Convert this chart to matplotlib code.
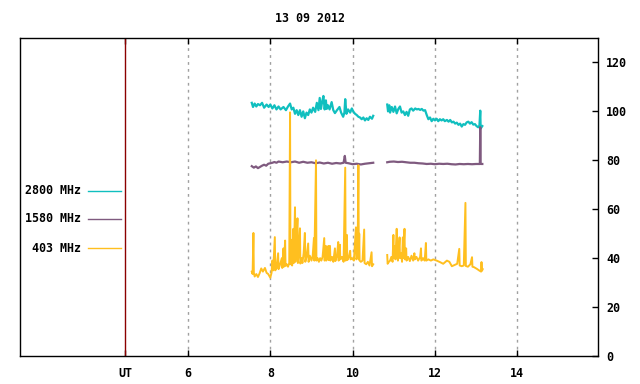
import matplotlib
matplotlib.use('Agg')
import matplotlib.pyplot as plt
from matplotlib.lines import Line2D
import numpy as np

title = "13 09 2012"
xticks = [6, 8, 10, 12, 14]
yticks = [0, 20, 40, 60, 80, 100, 120]
ut_pos = 4.47
labels = ["2800 MHz", "1580 MHz", "403 MHz"]
colors = ["#10bfbf", "#7f5a7f", "#ffbf1f"]

# 2800 MHz (nan = gap in the record)
cyan_t = [7.55, 7.58, 7.62, 7.66, 7.70, 7.75, 7.80, 7.85, 7.91, 7.96, 8.00, 8.05,
          8.10, 8.15, 8.20, 8.25, 8.32, 8.38, 8.43, 8.48, 8.52, 8.56, 8.60, 8.64,
          8.68, 8.72, 8.76, 8.80, 8.84, 8.88, 8.92, 8.96, 9.00, 9.04, 9.09, 9.13,
          9.17, 9.20, 9.23, 9.26, 9.29, 9.32, 9.35, 9.37, 9.40, 9.44, 9.49, 9.53,
          9.57, 9.62, 9.68, 9.72, 9.77, 9.80, 9.82, 9.85, 9.89, 9.94, 9.98, 10.02,
          10.06, 10.10, 10.14, 10.18, 10.22, 10.26, 10.30, 10.34, 10.38, 10.42, 10.47, 10.50,
          10.67,
          10.84, 10.86, 10.89, 10.91, 10.95, 10.99, 11.03, 11.07, 11.11, 11.15, 11.19, 11.23,
          11.27, 11.31, 11.35, 11.39, 11.43, 11.47, 11.52, 11.56, 11.60, 11.64, 11.68, 11.72,
          11.76, 11.80, 11.84, 11.88, 11.92, 11.96, 12.00, 12.04, 12.08, 12.12, 12.16, 12.20,
          12.24, 12.29, 12.33, 12.37, 12.41, 12.45, 12.49, 12.53, 12.57, 12.61, 12.65, 12.69,
          12.73, 12.77, 12.81, 12.85, 12.89, 12.93, 12.97, 13.01, 13.05, 13.08, 13.10, 13.11,
          13.15]
cyan_v = [103.5, 101.8, 103.2, 102.0, 103.0, 102.5, 103.5, 101.5, 102.8, 101.8, 102.8, 101.2,
          102.5, 100.8, 102.0, 100.8, 101.8, 100.5, 102.0, 103.2, 100.8, 101.5, 99.0, 100.5,
          98.5, 100.5, 97.8, 100.0, 97.2, 99.5, 98.5, 100.8, 99.5, 101.5, 99.8, 103.5,
          100.5, 105.5, 101.0, 104.0, 106.3, 100.8, 104.5, 101.0, 102.5, 100.8, 103.8, 100.5,
          99.3, 100.5, 101.8, 99.5, 97.8, 99.5, 105.0, 99.0, 100.8, 99.5, 101.2, 99.8,
          99.0, 98.5, 97.8, 97.5, 96.8, 97.5, 96.3, 97.2, 96.5, 97.8, 97.0, 98.2,
          np.nan,
          102.8, 100.0, 102.5, 99.5, 101.8, 99.8, 102.0, 99.2, 101.0, 102.0, 99.5, 100.0,
          98.5, 99.8, 98.2, 100.8, 101.2, 100.3, 101.2, 100.8, 101.0, 100.6, 101.0, 100.3,
          100.5, 98.5, 96.8, 97.5, 96.0, 97.0, 96.3, 97.0, 96.0, 96.8, 96.3, 96.8,
          96.0, 96.5, 95.8, 96.5, 95.5, 95.8, 95.0, 95.4, 94.5, 95.0, 93.8, 94.8,
          94.5, 95.5, 95.8, 95.0, 95.6, 94.6, 94.8, 94.0, 93.5, 94.2, 100.3, 93.0,
          94.0]

# 1580 MHz
purple_t = [7.55, 7.60, 7.65, 7.70, 7.75, 7.80, 7.85, 7.90, 7.95, 8.00, 8.05, 8.10,
            8.15, 8.20, 8.30, 8.40, 8.50, 8.60, 8.70, 8.80, 8.90, 9.00, 9.10, 9.20,
            9.30, 9.40, 9.50, 9.60, 9.70, 9.78, 9.81, 9.83, 9.90, 10.00, 10.10, 10.20,
            10.30, 10.40, 10.50, 10.67,
            10.84, 10.90, 11.00, 11.10, 11.20, 11.30, 11.40, 11.50, 11.60, 11.70, 11.80, 11.90,
            12.00, 12.10, 12.20, 12.30, 12.40, 12.50, 12.60, 12.70, 12.80, 12.90, 13.00, 13.09,
            13.10, 13.11, 13.15]
purple_v = [77.6, 77.0, 77.5, 76.8, 77.3, 77.8, 78.2, 77.8, 78.6, 78.8, 79.0, 79.3,
            79.0, 79.5, 79.2, 79.5, 79.2, 79.5, 79.0, 79.4, 79.0, 79.2, 78.8, 79.1,
            78.7, 79.0, 78.6, 78.9, 78.7, 79.0, 81.8, 79.0, 78.8, 78.4, 78.6, 78.3,
            78.6, 78.8, 79.0, np.nan,
            79.2, 79.4, 79.5, 79.3, 79.4, 79.2, 79.0, 79.0, 78.8, 78.7, 78.5, 78.6,
            78.4, 78.6, 78.5, 78.6, 78.4, 78.3, 78.5, 78.4, 78.5, 78.4, 78.5, 78.5,
            93.5, 78.5, 78.5]

# 403 MHz
yellow_t = [7.55, 7.57, 7.59, 7.60, 7.62, 7.66, 7.70, 7.74, 7.78, 7.82, 7.87, 7.91,
            7.95, 8.00, 8.03, 8.05, 8.07, 8.11, 8.12, 8.15, 8.19, 8.20, 8.23, 8.28,
            8.29, 8.32, 8.33, 8.36, 8.37, 8.40, 8.43, 8.46, 8.48, 8.49, 8.52, 8.53,
            8.56, 8.57, 8.60, 8.61, 8.63, 8.66, 8.67, 8.69, 8.72, 8.73, 8.76, 8.78,
            8.81, 8.84, 8.85, 8.88, 8.92, 8.93, 8.96, 9.00, 9.03, 9.06, 9.07, 9.11,
            9.12, 9.15, 9.18, 9.21, 9.24, 9.27, 9.31, 9.32, 9.35, 9.36, 9.38, 9.41,
            9.42, 9.45, 9.46, 9.50, 9.53, 9.57, 9.58, 9.62, 9.65, 9.66, 9.69, 9.70,
            9.74, 9.78, 9.82, 9.83, 9.86, 9.87, 9.91, 9.94, 9.95, 9.99, 10.03, 10.08,
            10.09, 10.12, 10.14, 10.15, 10.16, 10.17, 10.20, 10.24, 10.28, 10.29, 10.33, 10.37,
            10.41, 10.46, 10.47, 10.50, 10.67,
            10.84, 10.85, 10.88, 10.91, 10.94, 10.97, 10.99, 11.00, 11.03, 11.04, 11.07, 11.09,
            11.10, 11.12, 11.14, 11.15, 11.18, 11.20, 11.22, 11.23, 11.26, 11.27, 11.30, 11.31,
            11.35, 11.39, 11.43, 11.47, 11.50, 11.51, 11.55, 11.59, 11.64, 11.66, 11.67, 11.71,
            11.75, 11.78, 11.79, 11.84, 11.90, 11.96, 12.04, 12.12, 12.20, 12.29, 12.35, 12.41,
            12.49, 12.54, 12.59, 12.60, 12.65, 12.70, 12.74, 12.75, 12.80, 12.86, 12.90, 12.91,
            12.95, 13.02, 13.08, 13.12, 13.13, 13.14, 13.16]
yellow_v = [34.5, 33.5, 50.3, 34.0, 32.5, 33.5, 32.3, 33.8, 35.8, 34.5, 36.0, 34.0,
            33.5, 32.0, 34.0, 39.0, 35.0, 48.6, 35.0, 36.0, 42.0, 35.5, 37.0, 40.0,
            36.0, 44.0, 36.5, 47.2, 36.8, 37.5, 36.5, 38.0, 99.6, 37.5, 47.5, 37.0,
            52.0, 38.0, 60.8, 38.5, 45.0, 56.3, 38.0, 42.0, 52.2, 37.8, 40.0, 38.0,
            42.0, 50.3, 38.5, 40.5, 46.0, 38.5, 41.0, 39.0, 41.0, 48.2, 39.0, 80.0,
            39.0, 40.0, 38.5, 40.0, 39.0, 40.5, 48.2, 39.0, 45.0, 39.0, 40.0, 45.0,
            39.2, 45.0, 39.0, 40.5, 38.5, 44.0, 38.8, 41.0, 46.6, 39.0, 45.5, 39.5,
            40.5, 38.5, 77.0, 39.0, 49.5, 39.2, 40.5, 43.0, 39.5, 40.0, 39.0, 52.6,
            39.5, 41.0, 78.0, 39.5, 50.0, 39.0, 38.5, 39.0, 51.7, 38.0, 37.5, 38.5,
            37.0, 42.4, 36.7, 37.5, np.nan,
            41.3, 37.7, 38.5, 39.0, 40.5, 38.5, 49.5, 40.0, 45.0, 39.5, 52.0, 41.0,
            39.0, 43.0, 48.5, 40.0, 42.0, 38.5, 48.5, 40.0, 52.0, 39.5, 44.0, 39.0,
            40.5, 38.8, 41.0, 39.0, 42.0, 39.5, 40.5, 39.0, 40.5, 44.0, 39.0, 40.0,
            39.0, 46.2, 39.0, 39.5, 39.0, 39.5, 39.0, 38.4, 37.7, 39.0, 38.5, 36.7,
            37.3, 37.7, 43.8, 37.0, 36.7, 37.0, 62.6, 36.8, 36.5, 37.5, 40.4, 36.5,
            36.3, 35.6, 34.9, 34.5, 38.4, 34.8, 35.5]

font = dict(family="DejaVu Sans Mono", weight="bold", size=8.4)

fig = plt.figure(figsize=(6.4, 3.84), dpi=100)
ax = fig.add_axes([20/640, 28/384, 578/640, 318/384])

ax.plot(cyan_t, cyan_v, color=colors[0], lw=1.6)
ax.plot(purple_t, purple_v, color=colors[1], lw=1.6)
ax.plot(yellow_t, yellow_v, color=colors[2], lw=1.4)

ax.set_xlim(1.92, 15.96)
ax.set_ylim(0, 130)

for x in xticks:
    ax.axvline(x, color="#a0a0a0", lw=1, ls=(0, (2, 3)), zorder=0)
ax.axvline(ut_pos, color="#8b0000", lw=1)

ax.set_xticks([ut_pos] + xticks)
ax.set_xticklabels(["UT"] + [str(x) for x in xticks], **font)
ax.set_yticks(yticks)
ax.set_yticklabels([str(y) for y in yticks], **font)
ax.yaxis.tick_right()
ax.tick_params(axis="y", direction="in", length=4, width=1, pad=6, right=True, left=False)
ax.tick_params(axis="x", direction="in", length=4, width=1, pad=8, top=True)
for s in ax.spines.values():
    s.set_linewidth(1.0)

fig.text(310/640, 1 - 18/384, title, ha="center", va="center", **font)

leg_y = [191, 219, 248]
for lab, col, py in zip(labels, colors, leg_y):
    yy = 1 - py/384
    fig.text(81/640, yy, lab, ha="right", va="center", **font)
    fig.add_artist(Line2D([88/640, 121/640], [yy, yy], color=col, lw=1))

fig.savefig("out.png", dpi=100)
